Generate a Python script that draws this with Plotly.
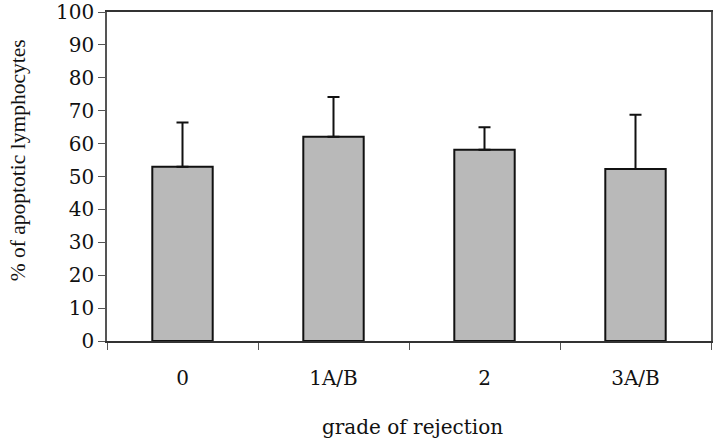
import plotly.graph_objects as go

categories = ["0", "1A/B", "2", "3A/B"]
values = [53.0, 62.1, 58.1, 52.3]
errors_up = [13.4, 12.1, 6.9, 16.5]

serif_wide = "DejaVu Serif, serif"
serif = "Liberation Serif, Times New Roman, serif"

fig = go.Figure()
fig.add_trace(go.Bar(
    x=categories, y=values, width=0.40,
    marker=dict(color="#b9b9b9", line=dict(color="#111111", width=2)),
    error_y=dict(type="data", symmetric=False, array=errors_up,
                 arrayminus=[0] * len(values), color="#111111",
                 thickness=2, width=6),
    showlegend=False,
))

fig.update_layout(
    width=720, height=444,
    margin=dict(l=107, r=9, t=12, b=103),
    paper_bgcolor="white", plot_bgcolor="white",
    font=dict(family=serif_wide, size=20, color="#111111"),
    xaxis=dict(
        type="category", range=[-0.5, 3.5], tickson="boundaries",
        ticks="outside", ticklen=7, tickcolor="#555555", tickwidth=1,
        showline=True, linecolor="#333333", linewidth=1.5, mirror=True,
        showgrid=False, tickfont=dict(size=20, family=serif_wide),
        ticklabelstandoff=18, automargin=False, ticklabeloverflow="allow",
    ),
    yaxis=dict(
        range=[0, 100], dtick=10, ticks="outside", ticklen=7,
        tickcolor="#555555", tickwidth=1,
        showline=True, linecolor="#555555", linewidth=1.5, mirror=True,
        showgrid=False, zeroline=False, tickfont=dict(size=20, family=serif_wide),
        automargin=False, ticklabeloverflow="allow",
    ),
    yaxis2=dict(
        range=[0, 100], dtick=10, overlaying="y", side="left",
        ticks="inside", ticklen=6, tickcolor="#555555", tickwidth=1,
        showticklabels=False, showgrid=False, zeroline=False, showline=False,
        automargin=False,
    ),
    annotations=[
        dict(text="grade of rejection", xref="paper", yref="paper",
             x=0.505, y=-0.261, xanchor="center", yanchor="middle",
             showarrow=False, font=dict(size=20, family=serif_wide)),
        dict(text="% of apoptotic lymphocytes", xref="paper", yref="paper",
             x=-0.147, y=0.55, xanchor="center", yanchor="middle",
             textangle=-90, showarrow=False, font=dict(size=21.5, family=serif)),
    ],
)

# remove the browser's default 8px body margin so the figure sits at the page origin
fig.write_html("out.html", config={"displayModeBar": False},
               post_script="document.body.style.margin='0px';")
